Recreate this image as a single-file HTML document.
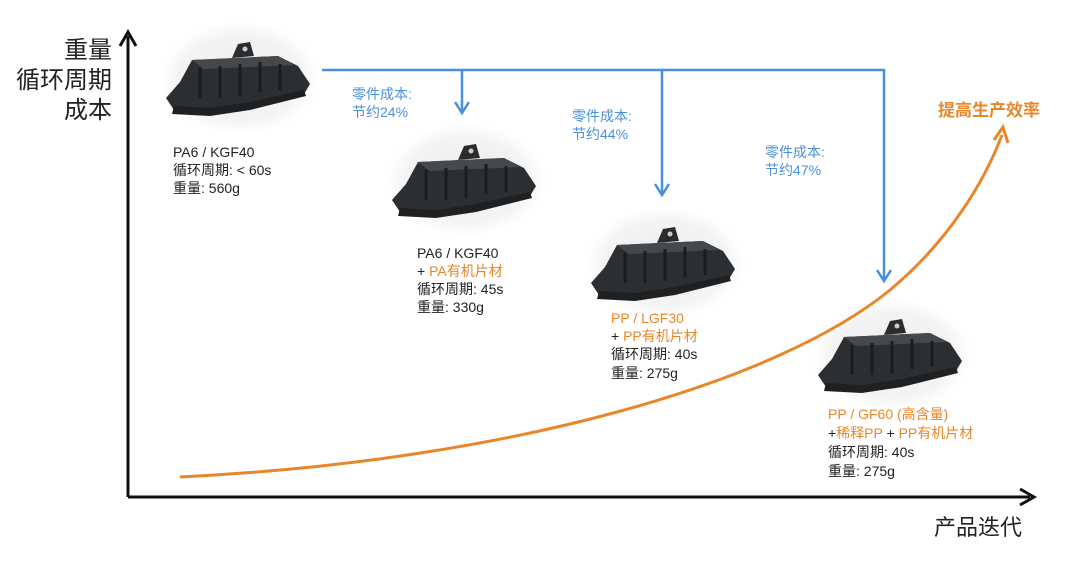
<!DOCTYPE html>
<html><head><meta charset="utf-8"><style>
html,body{margin:0;padding:0;background:#fff}
svg{display:block}
text{font-family:"Liberation Sans","Noto Sans CJK SC",sans-serif}
</style></head><body>
<svg width="1080" height="572" viewBox="0 0 1080 572" xmlns="http://www.w3.org/2000/svg">
<defs>
<radialGradient id="halo" cx="50%" cy="50%" r="50%">
<stop offset="0%" stop-color="#ececec"/><stop offset="70%" stop-color="#f4f4f4"/><stop offset="100%" stop-color="#fff" stop-opacity="0"/>
</radialGradient>
<g id="part">
<ellipse cx="0" cy="0" rx="88" ry="62" fill="url(#halo)"/>
<polygon points="-74,20 -60,4 -48,-18 38,-22 58,-12 70,6 64,16 10,28 -30,34 -66,32" fill="#2c2f31"/>
<polygon points="-48,-18 38,-22 54,-13 -36,-9" fill="#45494b"/>
<polygon points="-8,-20 -2,-34 10,-36 14,-22" fill="#2a2c2e"/>
<circle cx="5" cy="-29" r="2.5" fill="#ccc"/>
<polygon points="-66,28 -30,30 10,24 64,12 66,18 10,32 -30,38 -68,36" fill="#1e2022"/>
<path d="M-40,-10 v30 M-20,-12 v32 M0,-14 v32 M20,-16 v30 M40,-14 v26" stroke="#1a1c1d" stroke-width="3"/>
</g>
</defs>

<!-- axes -->
<line x1="128" y1="497" x2="128" y2="36" stroke="#111" stroke-width="3"/>
<polyline points="120,46 128,32 136,46" fill="none" stroke="#111" stroke-width="3"/>
<line x1="128" y1="497" x2="1030" y2="497" stroke="#111" stroke-width="3"/>
<polyline points="1020,489 1034,497 1020,505" fill="none" stroke="#111" stroke-width="3"/>

<text x="112" y="58" font-size="24" text-anchor="end" fill="#222">重量</text>
<text x="112" y="88" font-size="24" text-anchor="end" fill="#222">循环周期</text>
<text x="112" y="118" font-size="24" text-anchor="end" fill="#222">成本</text>
<text x="1022" y="535" font-size="22" text-anchor="end" fill="#222">产品迭代</text>

<!-- products -->
<use href="#part" transform="translate(240,78)"/>
<use href="#part" transform="translate(466,180)"/>
<use href="#part" transform="translate(665,263)"/>
<use href="#part" transform="translate(892,355)"/>

<!-- orange curve -->
<path d="M180,477 C520,460 780,380 890,290 C950,240 985,180 1002,135" fill="none" stroke="#e8862a" stroke-width="3"/>
<polyline points="994,140 1003,127 1008,143" fill="none" stroke="#e8862a" stroke-width="3"/>
<text x="938" y="116" font-size="17" font-weight="bold" fill="#e8862a">提高生产效率</text>

<!-- blue lines -->
<g stroke="#4a90d9" stroke-width="2.5" fill="none">
<polyline points="322,70 884,70 884,280"/>
<line x1="462" y1="70" x2="462" y2="112"/>
<line x1="662" y1="70" x2="662" y2="194"/>
<polyline points="455,102 462,113 469,102"/>
<polyline points="655,184 662,195 669,184"/>
<polyline points="877,270 884,281 891,270"/>
</g>
<g fill="#4a90d9" font-size="14">
<text x="352" y="99">零件成本:</text><text x="352" y="117">节约24%</text>
<text x="572" y="121">零件成本:</text><text x="572" y="139">节约44%</text>
<text x="765" y="157">零件成本:</text><text x="765" y="175">节约47%</text>
</g>

<g font-size="14" fill="#222">
<text x="173" y="157">PA6 / KGF40</text>
<text x="173" y="175">循环周期: &lt; 60s</text>
<text x="173" y="193">重量: 560g</text>

<text x="417" y="258">PA6 / KGF40</text>
<text x="417" y="276">+ <tspan fill="#e8862a">PA有机片材</tspan></text>
<text x="417" y="294">循环周期: 45s</text>
<text x="417" y="312">重量: 330g</text>

<text x="611" y="323" fill="#e8862a">PP / LGF30</text>
<text x="611" y="341">+ <tspan fill="#e8862a">PP有机片材</tspan></text>
<text x="611" y="359">循环周期: 40s</text>
<text x="611" y="378">重量: 275g</text>

<text x="828" y="419" fill="#e8862a">PP / GF60 (高含量)</text>
<text x="828" y="438">+<tspan fill="#e8862a">稀释PP</tspan> + <tspan fill="#e8862a">PP有机片材</tspan></text>
<text x="828" y="457">循环周期: 40s</text>
<text x="828" y="476">重量: 275g</text>
</g>
</svg>
</body></html>
